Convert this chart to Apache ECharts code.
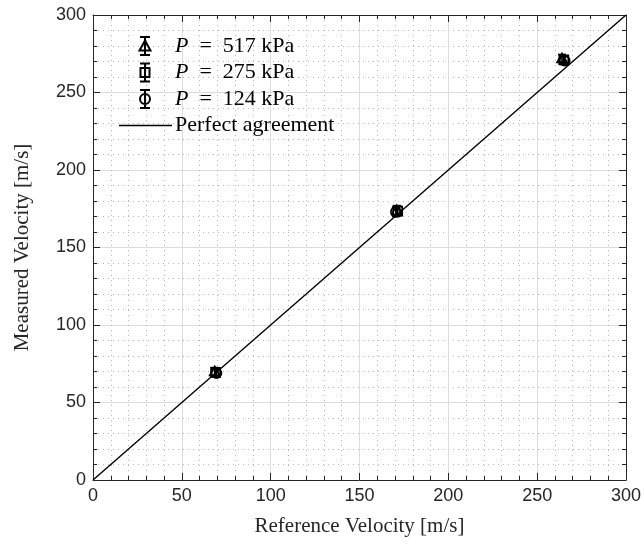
<!DOCTYPE html>
<html>
<head>
<meta charset="utf-8">
<script src="https://cdn.jsdelivr.net/npm/echarts@6/dist/echarts.min.js"></script>
<style>
  html, body { margin: 0; padding: 0; background: #fff; }
  #chart { width: 644px; height: 544px; }
</style>
</head>
<body>
<div id="chart"></div>
<script>
// measured points, one set per pressure
var names = ['P = 517 kPa', 'P = 275 kPa', 'P = 124 kPa'];
var markers = ['triangle', 'rect', 'circle'];
var ref517 = [68.5, 171, 264];
var meas517 = [70, 174, 272];
var err517 = [2.5, 3, 2.5];
var ref275 = [69, 171.5, 265];
var meas275 = [69.5, 173.5, 271];
var err275 = [2.5, 3, 2.5];
var ref124 = [69.5, 170.5, 265.5];
var meas124 = [69, 173, 270.5];
var err124 = [2.5, 3, 2.5];
var perfectX = [0, 300];
var axisTicks = [0, 50, 100, 150, 200, 250, 300];

var serif = '"Liberation Serif", "DejaVu Serif", serif';
var sans = '"Liberation Sans", Arial, sans-serif';

function toRows(xs, ys, es) {
  var rows = [];
  for (var i = 0; i < xs.length; i++) {
    rows.push([xs[i], ys[i], es[i]]);
  }
  return rows;
}

// legend icons: error bar with the marker, drawn in a 53x18 box
var barPath = 'M0 9 M53 9 M26 0 L26 18 M21 0 L31 0 M21 18 L31 18 ';
var icons = [
  'path://' + barPath + 'M26 3.5 L31.5 13.5 L20.5 13.5 Z',
  'path://' + barPath + 'M21.5 4.5 L30.5 4.5 L30.5 13.5 L21.5 13.5 Z',
  'path://' + barPath + 'M31 9 A5 5 0 1 1 21 9 A5 5 0 1 1 31 9 Z'
];
var lineIcon = 'path://M0 0 M53 18 M0 8.3 L53 8.3 L53 9.7 L0 9.7 Z';

function makeRender(marker) {
  return function (params, api) {
    var x = api.value(0), y = api.value(1), e = api.value(2);
    var p = api.coord([x, y]);
    var top = api.coord([x, y + e]);
    var bot = api.coord([x, y - e]);
    var s = 5;
    var stroke = { stroke: '#000', lineWidth: 1.7, fill: 'none' };
    var kids = [
      { type: 'line', shape: { x1: p[0], y1: top[1], x2: p[0], y2: bot[1] }, style: stroke },
      { type: 'line', shape: { x1: p[0] - 4, y1: top[1], x2: p[0] + 4, y2: top[1] }, style: stroke },
      { type: 'line', shape: { x1: p[0] - 4, y1: bot[1], x2: p[0] + 4, y2: bot[1] }, style: stroke }
    ];
    if (marker === 'triangle') {
      kids.push({ type: 'polygon', shape: { points: [[p[0], p[1] - s], [p[0] + s, p[1] + s * 0.8], [p[0] - s, p[1] + s * 0.8]] }, style: stroke });
    } else if (marker === 'rect') {
      kids.push({ type: 'rect', shape: { x: p[0] - s + 0.5, y: p[1] - s + 0.5, width: 2 * s - 1, height: 2 * s - 1 }, style: stroke });
    } else {
      kids.push({ type: 'circle', shape: { cx: p[0], cy: p[1], r: s }, style: stroke });
    }
    return { type: 'group', children: kids };
  };
}

var dataSets = [
  toRows(ref517, meas517, err517),
  toRows(ref275, meas275, err275),
  toRows(ref124, meas124, err124)
];

var series = [];
for (var k = 0; k < names.length; k++) {
  series.push({
    name: names[k],
    type: 'custom',
    renderItem: makeRender(markers[k]),
    itemStyle: { color: 'rgba(0,0,0,0)', borderColor: '#000', borderWidth: 1.4 },
    data: dataSets[k],
    z: 5
  });
}
series.push({
  name: 'Perfect agreement',
  type: 'line',
  data: [[perfectX[0], perfectX[0]], [perfectX[1], perfectX[1]]],
  symbol: 'none',
  lineStyle: { color: '#000', width: 1.4 },
  itemStyle: { color: '#000' },
  z: 4
});

function mainAxis(pos, title, gap) {
  return {
    type: 'value',
    position: pos,
    min: axisTicks[0],
    max: axisTicks[axisTicks.length - 1],
    interval: axisTicks[1] - axisTicks[0],
    name: title,
    nameLocation: 'middle',
    nameGap: gap,
    nameTextStyle: { fontFamily: serif, fontSize: 21, color: '#262626' },
    axisLine: { show: true, onZero: false, lineStyle: { color: '#262626', width: 1 } },
    axisTick: { show: true, inside: true, length: 7, lineStyle: { color: '#262626' } },
    minorTick: { show: true, splitNumber: 5, length: 4, lineStyle: { color: '#262626' } },
    axisLabel: { fontFamily: sans, fontSize: 18, color: '#262626', margin: 7 },
    splitLine: { show: true, lineStyle: { color: '#dcdcdc', width: 1 } },
    minorSplitLine: { show: true, lineStyle: { color: '#b8b8b8', width: 1, type: [1, 4] } }
  };
}

function boxAxis(pos) {
  return {
    type: 'value',
    position: pos,
    min: axisTicks[0],
    max: axisTicks[axisTicks.length - 1],
    interval: axisTicks[1] - axisTicks[0],
    axisLine: { show: true, onZero: false, lineStyle: { color: '#262626', width: 1 } },
    axisTick: { show: true, inside: true, length: 7, lineStyle: { color: '#262626' } },
    minorTick: { show: true, splitNumber: 5, length: 4, lineStyle: { color: '#262626' } },
    axisLabel: { show: false },
    splitLine: { show: false }
  };
}

var legendData = [];
for (var j = 0; j < names.length; j++) {
  legendData.push({ name: names[j], icon: icons[j] });
}
legendData.push({ name: 'Perfect agreement', icon: lineIcon });

var option = {
  animation: false,
  backgroundColor: '#fff',
  grid: { left: 93, top: 15, right: 16, bottom: 64, containLabel: false },
  legend: {
    orient: 'vertical',
    left: 113,
    top: 30,
    itemWidth: 53,
    itemHeight: 18,
    itemGap: 4.5,
    data: legendData,
    formatter: function (name) {
      return name.indexOf('P = ') === 0 ? name.replace('P = ', '{i|P}  =  ') : name;
    },
    textStyle: {
      fontFamily: serif,
      fontSize: 22,
      color: '#000',
      padding: [0, 0, 0, -2],
      rich: { i: { fontFamily: serif, fontSize: 22, fontStyle: 'italic', color: '#000' } }
    },
    selectedMode: false
  },
  xAxis: [mainAxis('bottom', 'Reference Velocity [m/s]', 36), boxAxis('top')],
  yAxis: [mainAxis('left', 'Measured Velocity [m/s]', 60), boxAxis('right')],
  series: series
};

var chart = echarts.init(document.getElementById('chart'), null, { renderer: 'canvas' });
chart.setOption(option);
</script>
</body>
</html>
